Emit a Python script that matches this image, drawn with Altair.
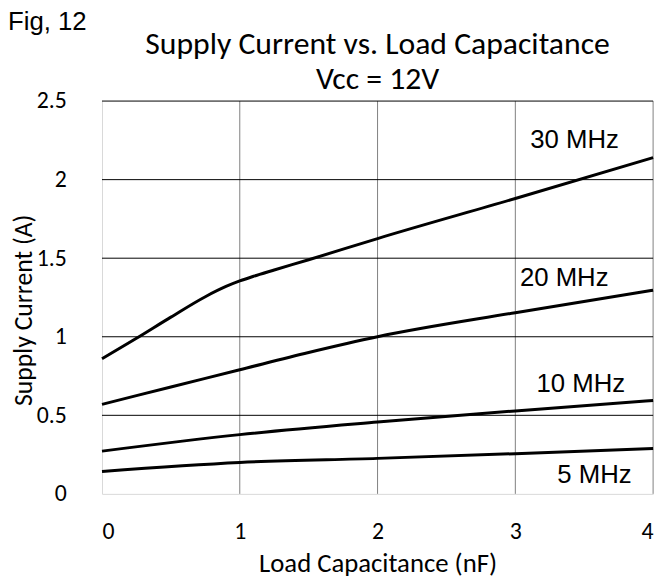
import altair as alt
import pandas as pd

cap_30 = [0, 0.25, 0.5, 0.75, 0.9, 1.0, 1.1, 1.25, 1.5, 2.0, 3.0, 4.0]
cur_30 = [0.86, 0.99, 1.125, 1.255, 1.32, 1.355, 1.385, 1.425, 1.49, 1.625, 1.88, 2.14]
cap_20 = [0, 0.5, 1.0, 1.5, 2.0, 3.0, 4.0]
cur_20 = [0.57, 0.68, 0.79, 0.90, 1.00, 1.153, 1.296]
cap_10 = [0, 1.0, 2.0, 3.0, 4.0]
cur_10 = [0.272, 0.377, 0.457, 0.528, 0.594]
cap_5 = [0, 1.0, 2.0, 3.0, 4.0]
cur_5 = [0.143, 0.200, 0.226, 0.256, 0.289]

label_text = ["30 MHz", "20 MHz", "10 MHz", "5 MHz"]
label_x = [3.43, 3.355, 3.475, 3.574]
label_y = [2.20, 1.32, 0.651, 0.067]

x_ticks = [0, 1, 2, 3, 4]
y_ticks = [0, 0.5, 1, 1.5, 2, 2.5]

rows = []
for name, xs_, ys_ in [("30 MHz", cap_30, cur_30), ("20 MHz", cap_20, cur_20),
                       ("10 MHz", cap_10, cur_10), ("5 MHz", cap_5, cur_5)]:
    for a, b in zip(xs_, ys_):
        rows.append({"series": name, "cap": a, "cur": b})
df = pd.DataFrame(rows)
lab = pd.DataFrame({"text": label_text, "cap": label_x, "cur": label_y})

FONT = "Carlito, Open Sans"

xs = alt.Scale(domain=[0, 4], nice=False, zero=False)
ys = alt.Scale(domain=[0, 2.5], nice=False)

vgrid = alt.Chart(pd.DataFrame({"cap": x_ticks[1:]})).mark_rule(color="#808080", strokeWidth=1).encode(
    x=alt.X("cap:Q", scale=xs)
)
hgrid = alt.Chart(pd.DataFrame({"cur": y_ticks[1:]})).mark_rule(color="#000000", strokeWidth=1).encode(
    y=alt.Y("cur:Q", scale=ys)
)

lines = alt.Chart(df).mark_line(color="black", strokeWidth=3, interpolate="monotone").encode(
    x=alt.X("cap:Q", scale=xs,
            axis=alt.Axis(values=x_ticks, title="Load Capacitance (nF)", grid=False, ticks=False,
                          format="d", domainColor="#d9d9d9", labelFont=FONT, labelFontSize=24,
                          labelColor="black", labelPadding=26, titleFont=FONT, titleFontSize=27,
                          titleFontWeight="normal", titleColor="black", titlePadding=7)),
    y=alt.Y("cur:Q", scale=ys,
            axis=alt.Axis(values=y_ticks, title="Supply Current (A)", grid=False, ticks=False,
                          domainColor="#d9d9d9", labelFont=FONT, labelFontSize=24, labelColor="black",
                          labelPadding=36, labelExpr="format(datum.value, '~g')",
                          titleFont=FONT, titleFontSize=26, titleFontWeight="normal",
                          titleColor="black", titlePadding=0, titleY=211)),
    detail="series:N",
)

labels = alt.Chart(lab).mark_text(font="Liberation Sans", fontSize=26, color="black", align="center",
                                  baseline="alphabetic").encode(
    x=alt.X("cap:Q", scale=xs), y=alt.Y("cur:Q", scale=ys), text="text:N"
)

fig = alt.Chart(pd.DataFrame({"t": ["Fig, 12"]})).mark_text(
    font="Liberation Sans", fontSize=26, align="left", baseline="top", color="black"
).encode(x=alt.value(-95), y=alt.value(-93), text="t:N")

chart = alt.layer(vgrid, hgrid, lines, labels, fig).properties(
    width=557, height=397,
    padding={"left": 95, "top": 91, "right": 10, "bottom": 86},
    autosize=alt.AutoSizeParams(type="none"),
    title=alt.TitleParams(["Supply Current vs. Load Capacitance", "Vcc = 12V"], font=FONT, fontSize=32,
                          fontWeight="normal", color="black", anchor="middle", frame="group",
                          offset=0, dy=88, lineHeight=36),
).configure_view(stroke=None)

chart.save("out.html", embed_options={"renderer": "svg", "actions": False})
